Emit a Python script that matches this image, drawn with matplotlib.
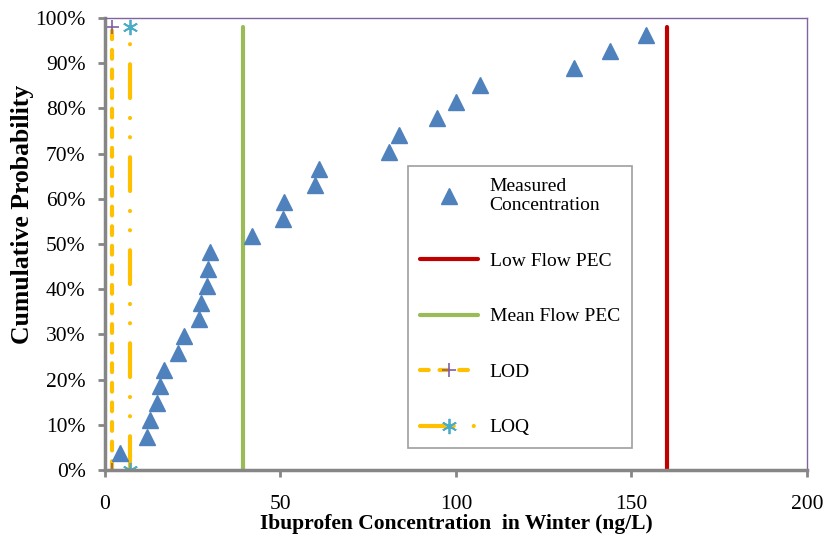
import matplotlib.pyplot as plt
from matplotlib.ticker import PercentFormatter

plt.rcParams['font.family'] = ['Liberation Serif', 'DejaVu Serif']

# measured ibuprofen concentrations (ng/L), sorted
conc = [4.3, 11.9, 12.8, 14.9, 15.7, 16.9, 20.9, 22.6, 26.9, 27.3, 29.0, 29.4, 29.9,
        41.9, 50.8, 50.9, 59.9, 60.9, 80.9, 83.8, 94.6, 100.0, 106.8, 133.6, 144.0, 154.0]
prob = [(i + 1) / (len(conc) + 1) for i in range(len(conc))]

low_flow_pec = 160
mean_flow_pec = 39.3
lod = 2
loq = 7
line_span = [0, 0.98]

fig = plt.figure(figsize=(8.28, 5.41), dpi=100)
ax = fig.add_axes([105/828, 71/541, 702/828, 452/541])

ax.plot(conc, prob, linestyle='none', marker='^', markersize=12,
        color='#4F81BD', label='Measured\nConcentration', zorder=5)
ax.plot([low_flow_pec]*2, line_span, color='#C00000', lw=3,
        solid_capstyle='round', label='Low Flow PEC')
ax.plot([mean_flow_pec]*2, line_span, color='#9BBB59', lw=3,
        solid_capstyle='round', label='Mean Flow PEC')
ax.plot([lod]*2, line_span, color='#FFC000', lw=3, dashes=(2.1, 2.6),
        dash_capstyle='round', marker='+', markersize=10, markeredgewidth=1.2,
        markeredgecolor='#7F5FA8', label='LOD')
ax.plot([loq]*2, line_span, color='#FFC000', lw=3,
        dashes=(8.1, 4.8, 0.01, 4.6, 0.01, 4.8), dash_capstyle='round',
        marker=(6, 2, 0), markersize=11, markeredgewidth=1.3,
        markeredgecolor='#4BACC6', label='LOQ')

ax.set_xlim(0, 200)
ax.set_ylim(0, 1)
ax.set_xticks([0, 50, 100, 150, 200])
ax.set_yticks([i / 10 for i in range(11)])
ax.yaxis.set_major_formatter(PercentFormatter(1.0, decimals=0))
ax.tick_params(direction='out', length=5, width=2, color='#868686',
               labelsize=15.5)
ax.tick_params(axis='y', pad=9)
ax.tick_params(axis='x', pad=13)

for s in ['left', 'bottom']:
    ax.spines[s].set_color('#868686')
    ax.spines[s].set_linewidth(2.5)
for s in ['top', 'right']:
    ax.spines[s].set_color('#8064A2')
    ax.spines[s].set_linewidth(1)

ax.set_xlabel('Ibuprofen Concentration  in Winter (ng/L)', fontsize=15.5,
              fontweight='bold')
ax.xaxis.set_label_coords(0.5, -44/452)
ax.set_ylabel('Cumulative Probability', fontsize=18.5, fontweight='bold')
ax.yaxis.set_label_coords(-71/702, 256/452)

leg = ax.legend(loc='upper left', bbox_to_anchor=(303/702, 1 - 148/452),
                fontsize=14, frameon=True, fancybox=False, edgecolor='#868686',
                borderpad=0.6, labelspacing=1.95, handlelength=3.0,
                handletextpad=0.6, borderaxespad=0)
leg.get_frame().set_linewidth(1.2)

fig.savefig('out.png', dpi=100)
